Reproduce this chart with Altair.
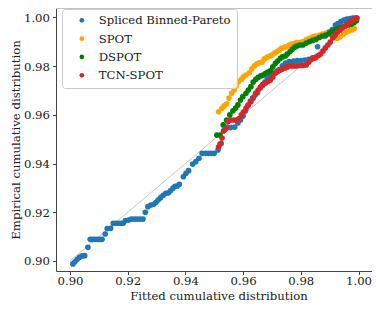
import altair as alt
import pandas as pd

names = ["Spliced Binned-Pareto", "SPOT", "DSPOT", "TCN-SPOT"]
colors = ["#1f77b4", "#ffa500", "#008000", "#d62728"]
ticks = [0.90, 0.92, 0.94, 0.96, 0.98, 1.00]
diag_vals = [0.90, 1.00]

blue_x = [0.9010,0.9017,0.9025,0.9033,0.9042,0.9051,0.9062,0.9070,0.9078,0.9086,
          0.9095,0.9103,0.9111,0.9122,0.9129,0.9141,0.9150,0.9159,0.9167,0.9176,
          0.9184,0.9192,0.9203,0.9213,0.9223,0.9233,0.9243,0.9253,0.9261,0.9270,
          0.9280,0.9290,0.9298,0.9306,0.9314,0.9323,0.9332,0.9341,0.9349,0.9357,
          0.9364,0.9372,0.9379,0.9393,0.9402,0.9411,0.9425,0.9436,0.9447,0.9458,
          0.9470,0.9480,0.9490,0.9500,0.9513,0.9524,0.9535,0.9546,0.9557,0.9571,
          0.9582,0.9591,0.9600,0.9608,0.9616,0.9625,0.9633,0.9642,0.9650,0.9659,
          0.9667,0.9676,0.9684,0.9693,0.9701,0.9709,0.9718,0.9726,0.9736,0.9747,
          0.9760,0.9774,0.9787,0.9801,0.9814,0.9828,0.9841,0.9858,0.9885,0.9898,
          0.9909,0.9920,0.9929,0.9939,0.9949,0.9959,0.9970,0.9980,0.9990]
blue_y = [0.8988,0.8997,0.9007,0.9015,0.9021,0.9022,0.9056,0.9089,0.9089,0.9089,
          0.9089,0.9089,0.9089,0.9111,0.9133,0.9134,0.9155,0.9155,0.9155,0.9155,
          0.9155,0.9166,0.9168,0.9172,0.9172,0.9172,0.9172,0.9172,0.9200,0.9223,
          0.9230,0.9233,0.9241,0.9251,0.9260,0.9270,0.9278,0.9280,0.9289,0.9299,
          0.9307,0.9308,0.9315,0.9346,0.9360,0.9371,0.9398,0.9408,0.9422,0.9442,
          0.9442,0.9442,0.9442,0.9442,0.9456,0.9483,0.9538,0.9550,0.9548,0.9550,
          0.9567,0.9579,0.9595,0.9616,0.9637,0.9657,0.9669,0.9682,0.9691,0.9710,
          0.9723,0.9735,0.9750,0.9758,0.9766,0.9772,0.9780,0.9786,0.9801,0.9813,
          0.9819,0.9821,0.9823,0.9823,0.9825,0.9828,0.9834,0.9880,0.9924,0.9940,
          0.9950,0.9969,0.9975,0.9983,0.9989,0.9993,0.9996,0.9998,0.9999]

spot_x = [0.9515,0.9526,0.9534,0.9543,0.9551,0.9560,0.9569,0.9576,0.9584,0.9594,
          0.9601,0.9610,0.9622,0.9630,0.9639,0.9647,0.9655,0.9666,0.9674,0.9683,
          0.9693,0.9700,0.9709,0.9717,0.9726,0.9734,0.9743,0.9751,0.9760,0.9768,
          0.9777,0.9785,0.9796,0.9807,0.9819,0.9829,0.9841,0.9851,0.9864,0.9875,
          0.9886,0.9897,0.9905,0.9915,0.9926,0.9936,0.9948,0.9958,0.9966,0.9976,0.9985]
spot_y = [0.9613,0.9627,0.9637,0.9645,0.9669,0.9689,0.9702,0.9719,0.9736,0.9746,
          0.9756,0.9764,0.9773,0.9789,0.9801,0.9809,0.9814,0.9817,0.9830,0.9837,
          0.9842,0.9846,0.9854,0.9860,0.9867,0.9874,0.9877,0.9880,0.9887,0.9891,
          0.9893,0.9897,0.9897,0.9901,0.9908,0.9914,0.9921,0.9924,0.9928,0.9932,
          0.9935,0.9934,0.9928,0.9921,0.9915,0.9920,0.9932,0.9940,0.9945,0.9949,0.9955]

dspot_x = [0.9509,0.9520,0.9531,0.9543,0.9554,0.9565,0.9574,0.9582,0.9591,0.9599,
           0.9610,0.9618,0.9627,0.9635,0.9644,0.9652,0.9661,0.9669,0.9678,0.9686,
           0.9695,0.9703,0.9712,0.9720,0.9729,0.9736,0.9746,0.9753,0.9763,0.9770,
           0.9779,0.9787,0.9796,0.9807,0.9819,0.9830,0.9841,0.9852,0.9864,0.9875,
           0.9886,0.9898,0.9909,0.9920,0.9931,0.9943,0.9954,0.9965,0.9976,0.9985,0.9993]
dspot_y = [0.9517,0.9517,0.9559,0.9579,0.9600,0.9617,0.9628,0.9641,0.9661,0.9675,
           0.9689,0.9702,0.9716,0.9735,0.9746,0.9754,0.9760,0.9764,0.9771,0.9776,
           0.9782,0.9797,0.9812,0.9821,0.9832,0.9838,0.9842,0.9850,0.9860,0.9869,
           0.9878,0.9883,0.9887,0.9887,0.9895,0.9901,0.9906,0.9910,0.9918,0.9924,
           0.9928,0.9934,0.9942,0.9949,0.9956,0.9961,0.9965,0.9969,0.9973,0.9979,0.9987]

tcn_x = [0.9515,0.9520,0.9527,0.9532,0.9541,0.9548,0.9557,0.9568,0.9578,0.9586,
         0.9594,0.9601,0.9610,0.9618,0.9627,0.9635,0.9644,0.9652,0.9661,0.9669,
         0.9678,0.9686,0.9695,0.9703,0.9712,0.9720,0.9729,0.9736,0.9746,0.9753,
         0.9764,0.9774,0.9784,0.9796,0.9807,0.9819,0.9828,0.9836,0.9845,0.9852,
         0.9861,0.9869,0.9877,0.9885,0.9894,0.9902,0.9911,0.9919,0.9927,0.9936,
         0.9944,0.9953,0.9961,0.9970,0.9978,0.9986,0.9995]
tcn_y = [0.9468,0.9480,0.9505,0.9534,0.9544,0.9573,0.9579,0.9579,0.9579,0.9585,
         0.9600,0.9612,0.9627,0.9641,0.9654,0.9669,0.9690,0.9702,0.9715,0.9723,
         0.9731,0.9737,0.9743,0.9756,0.9772,0.9778,0.9784,0.9788,0.9793,0.9797,
         0.9801,0.9801,0.9801,0.9803,0.9803,0.9805,0.9817,0.9828,0.9832,0.9836,
         0.9844,0.9850,0.9862,0.9875,0.9887,0.9899,0.9916,0.9928,0.9940,0.9949,
         0.9957,0.9965,0.9973,0.9981,0.9988,0.9994,0.9998]

series_x = [blue_x, spot_x, dspot_x, tcn_x]
series_y = [blue_y, spot_y, dspot_y, tcn_y]

frames = []
for name, xs, ys in zip(names, series_x, series_y):
    frames.append(pd.DataFrame({"fitted": xs, "empirical": ys, "method": name}))
df = pd.concat(frames, ignore_index=True)
df["order"] = range(len(df))

diag = pd.DataFrame({"fitted": diag_vals, "empirical": diag_vals})

FONT = "DejaVu Serif, Liberation Serif, serif"
FS = 11.7
W, H = 316, 263
xscale = alt.Scale(domain=[0.895147, 1.004679], nice=False, zero=False)
yscale = alt.Scale(domain=[0.89589, 1.0039], nice=False, zero=False)

line = alt.Chart(diag).mark_line(color="#c8c8c8", strokeWidth=1).encode(
    x=alt.X("fitted:Q", scale=xscale,
            axis=alt.Axis(values=ticks, format=".2f", title="Fitted cumulative distribution",
                          labelFlush=False, titleX=162.5)),
    y=alt.Y("empirical:Q", scale=yscale,
            axis=alt.Axis(values=ticks, format=".2f", title="Empirical cumulative distribution",
                          labelFlush=False)),
)

points = alt.Chart(df).mark_circle(size=32, opacity=1).encode(
    x="fitted:Q",
    y="empirical:Q",
    order=alt.Order("order:Q"),
    color=alt.Color(
        "method:N",
        scale=alt.Scale(domain=names, range=colors),
        sort=names,
        legend=alt.Legend(
            title=None, orient="none", legendX=6, legendY=1,
            padding=5.5, symbolOffset=8.5, labelOffset=11, rowPadding=5.3,
            symbolSize=22, symbolType="circle", symbolStrokeWidth=0,
            labelFont=FONT, labelFontSize=FS, labelColor="#222222",
            strokeColor="#cccccc", fillColor="rgba(255,255,255,0.8)", cornerRadius=3,
        ),
    ),
)

top = alt.Chart(pd.DataFrame({"a": [0]})).mark_rule(color="#c4c4c4", strokeWidth=1).encode(
    x=alt.value(0), x2=alt.value(W), y=alt.value(0.5)
)

chart = (
    alt.layer(line, points, top)
    .properties(width=W, height=H, autosize=alt.AutoSizeParams(type="none"),
                padding={"left": 48, "top": 0, "right": 0, "bottom": 34})
    .configure_view(strokeWidth=0)
    .configure_axis(labelFont=FONT, labelFontSize=FS, labelColor="#222222",
                    titleFont=FONT, titleFontSize=FS, titleFontWeight="normal",
                    titleColor="#222222", tickColor="#444444", domainColor="#444444",
                    tickSize=3.5, grid=False, labelPadding=2)
    .configure_axisY(labelPadding=3, titlePadding=2)
    .configure_axisX(labelPadding=1, titlePadding=3)
)

chart.save("out.html", embed_options={"renderer": "svg", "actions": False})
